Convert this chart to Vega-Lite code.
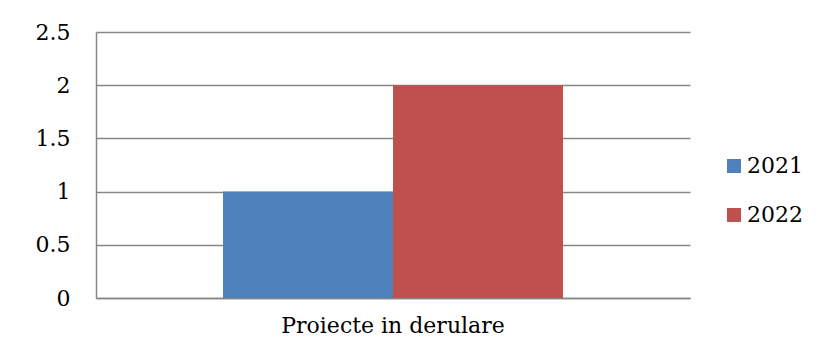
{
  "$schema": "https://vega.github.io/schema/vega-lite/v6.json",
  "autosize": {"type": "none"},
  "padding": {"left": 96, "top": 32, "right": 135, "bottom": 60},
  "width": 594,
  "height": 266,
  "background": "white",
  "data": {"values": [
    {"category": "Proiecte in derulare", "year": "2021", "value": 1},
    {"category": "Proiecte in derulare", "year": "2022", "value": 2}
  ]},
  "mark": {"type": "bar"},
  "encoding": {
    "x": {"field": "category", "type": "nominal",
      "scale": {"paddingInner": 0, "paddingOuter": 0.3735},
      "axis": {"title": null, "labelAngle": 0, "labelLimit": 0, "domain": true, "domainColor": "#868686", "domainWidth": 1.5, "ticks": false, "labelFont": "DejaVu Serif", "labelFontSize": 22, "labelColor": "black", "labelPadding": 17}},
    "xOffset": {"field": "year", "type": "nominal", "scale": {"paddingInner": 0, "paddingOuter": 0}},
    "y": {"field": "value", "type": "quantitative",
      "scale": {"domain": [0, 2.5]},
      "axis": {"title": null, "values": [0, 0.5, 1, 1.5, 2, 2.5], "format": "~g", "grid": true, "gridColor": "#868686", "gridWidth": 1.5, "domain": true, "domainColor": "#868686", "domainWidth": 1.5, "ticks": false, "labelFont": "DejaVu Serif", "labelFontSize": 22, "labelColor": "black", "labelPadding": 26}},
    "color": {"field": "year", "type": "nominal",
      "scale": {"range": ["#4F81BD", "#C0504D"]},
      "legend": {"title": null, "orient": "none", "legendX": 627, "legendY": 123, "symbolType": "square", "symbolSize": 196, "symbolStrokeWidth": 0, "labelFont": "DejaVu Serif", "labelFontSize": 22, "labelColor": "black", "rowPadding": 27, "labelOffset": 2}}
  },
  "config": {"view": {"stroke": null}}
}
